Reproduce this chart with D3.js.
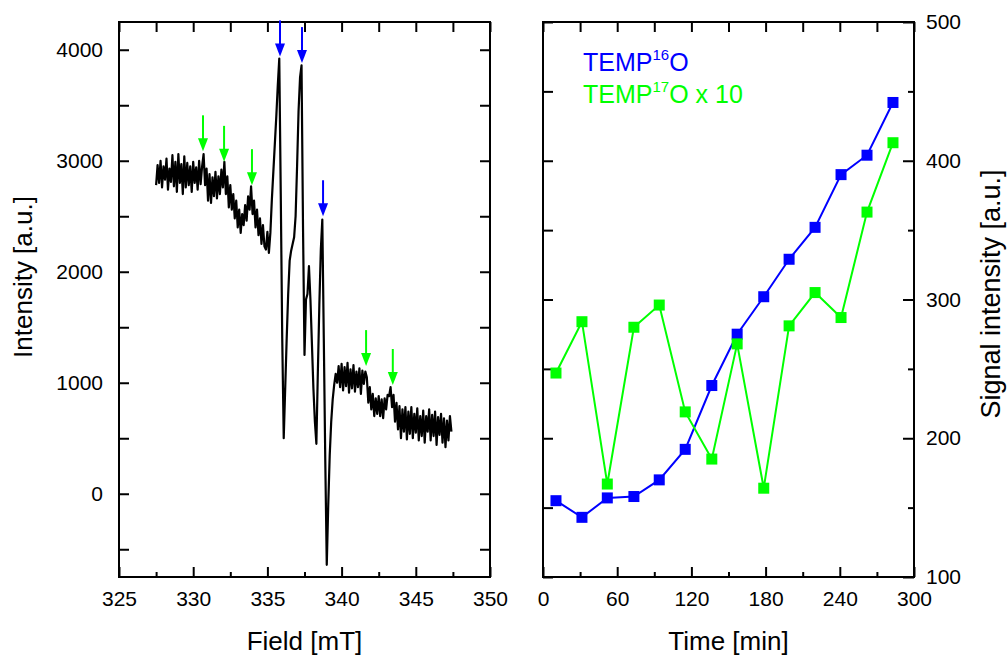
<!DOCTYPE html>
<html>
<head>
<meta charset="utf-8">
<script src="https://cdn.jsdelivr.net/npm/d3@7"></script>
<style>
  body { margin: 0; background: #fff; }
  svg { display: block; }
  text { font-family: Arial, "Liberation Sans", sans-serif; }
</style>
</head>
<body>
<div id="chart"></div>
<script>
// ---- data: EPR spectrum (left) ----
var fieldStart = 327.5;   // mT
var fieldStep = 0.1;      // mT
var intensity = [
  2780, 2960, 2800, 3000, 2760, 2950, 2830, 3020, 2740, 2930,
  2810, 3050, 2770, 2990, 2720, 3060, 2800, 2970, 2700, 3040,
  2760, 2980, 2780, 2950, 2720, 2990, 2800, 2940, 2740, 3000,
  2790, 2950, 3060, 2780, 2930, 2640, 2880, 2620, 2850, 2680,
  2900, 2660, 2860, 2700, 2920, 2760, 2990, 2700, 2860, 2580,
  2780, 2560, 2700, 2480, 2640, 2400, 2560, 2350, 2520, 2420,
  2600, 2460, 2680, 2560, 2770, 2520, 2640, 2400, 2560, 2330,
  2480, 2250, 2420, 2230, 2200, 2360, 2170, 2350, 2650, 2900,
  3150, 3400, 3680, 3920, 2700, 1400, 500, 950, 1400, 1800,
  2100, 2190, 2250, 2310, 2500, 2950, 3450, 3750, 3860, 2400,
  1250, 1750, 1800, 2050, 1750, 1350, 950, 650, 450, 1100,
  1700, 2200, 2470, 1400, 300, -640, -100, 350, 650, 850,
  980, 1080, 1000, 1150, 960, 1170, 930, 1140, 970, 1180,
  910, 1120, 950, 1160, 920, 1100, 960, 1130, 900, 1110,
  990, 1100, 1050, 820, 960, 760, 900, 700, 860, 720,
  880, 700, 850, 680, 860, 760, 890, 880, 960, 780,
  890, 650, 820, 580, 790, 500, 760, 560, 780, 490,
  740, 540, 780, 500, 720, 550, 770, 480, 700, 520,
  750, 460, 700, 560, 760, 480, 710, 520, 740, 440,
  690, 530, 720, 460, 680, 420, 660, 480, 700, 560
];

// arrows: field position and intensity at the arrow tip
var greenArrowField = [330.66, 332.08, 333.96, 341.65, 343.45];
var greenArrowTip = [3085, 2990, 2780, 1150, 980];
var blueArrowField = [335.85, 337.33, 338.75];
var blueArrowTip = [3940, 3880, 2500];

// ---- data: signal vs time (right) ----
var times = [10.5, 31.5, 52, 73.5, 94, 115, 136.5, 157, 178.5, 199, 220, 241, 262, 283];
var temp16O = [155, 143, 157, 158, 170, 192, 238, 275, 302, 329, 352, 390, 404, 442];
var temp17Ox10 = [247, 284, 167, 280, 296, 219, 185, 268, 164, 281, 305, 287, 363, 413];

var fieldMajor = [325, 330, 335, 340, 345, 350];
var fieldMinor = [327.5, 332.5, 337.5, 342.5, 347.5];
var intensityTicks = [-500, 0, 500, 1000, 1500, 2000, 2500, 3000, 3500, 4000];
var intensityLabels = [0, 1000, 2000, 3000, 4000];
var timeMajor = [0, 60, 120, 180, 240, 300];
var timeMinor = [30, 90, 150, 210, 270];
var signalMajor = [100, 200, 300, 400, 500];
var signalMinor = [150, 250, 350, 450];

var BLUE = "#0000ff", GREEN = "#00ff00";

var svg = d3.select("#chart").append("svg")
  .attr("width", 1008)
  .attr("height", 656);

var plotTop = 22, plotBottom = 577;

var xField = d3.scaleLinear().domain([325, 350]).range([119, 490]);
var yInt = d3.scaleLinear().domain([-750, 4250]).range([plotBottom, plotTop]);
var xTime = d3.scaleLinear().domain([0, 300]).range([543, 914]);
var ySig = d3.scaleLinear().domain([100, 500]).range([plotBottom, plotTop]);

// draw one axis; negative tick size = ticks pointing inward
function addAxis(axis, transform, withLabels) {
  var g = svg.append("g")
    .attr("transform", transform)
    .call(axis);
  g.select(".domain").remove();
  g.selectAll(".tick line").attr("stroke", "#000").attr("stroke-width", 2);
  g.selectAll(".tick text")
    .attr("fill", "#000")
    .style("font-size", "21px");
  if (!withLabels) g.selectAll(".tick text").remove();
  return g;
}

// Left panel axes
addAxis(d3.axisBottom(xField).tickValues(fieldMajor).tickSize(-10).tickPadding(14).tickFormat(d3.format("d")),
  `translate(0, ${plotBottom})`, true);
addAxis(d3.axisBottom(xField).tickValues(fieldMinor).tickSize(-5), `translate(0, ${plotBottom})`, false);
addAxis(d3.axisTop(xField).tickValues(fieldMajor.concat(fieldMinor)).tickSize(-10), `translate(0, ${plotTop})`, false);
addAxis(d3.axisLeft(yInt).tickValues(intensityTicks).tickSize(-10), `translate(119, 0)`, false);
addAxis(d3.axisLeft(yInt).tickValues(intensityLabels).tickSize(0).tickPadding(16).tickFormat(d3.format("d")),
  `translate(119, 0)`, true);
addAxis(d3.axisRight(yInt).tickValues(intensityTicks).tickSize(-10), `translate(490, 0)`, false);

// Right panel axes
addAxis(d3.axisBottom(xTime).tickValues(timeMajor).tickSize(-10).tickPadding(14).tickFormat(d3.format("d")),
  `translate(0, ${plotBottom})`, true);
addAxis(d3.axisBottom(xTime).tickValues(timeMinor).tickSize(-5), `translate(0, ${plotBottom})`, false);
addAxis(d3.axisTop(xTime).tickValues(timeMajor.concat(timeMinor)).tickSize(-10), `translate(0, ${plotTop})`, false);
addAxis(d3.axisLeft(ySig).tickValues(signalMajor.concat(signalMinor)).tickSize(-10), `translate(543, 0)`, false);
addAxis(d3.axisRight(ySig).tickValues(signalMajor).tickSize(-11).tickPadding(12).tickFormat(d3.format("d")),
  `translate(914, 0)`, true);
addAxis(d3.axisRight(ySig).tickValues(signalMinor).tickSize(-6), `translate(914, 0)`, false);

// Frames
[[xField, 119, 490], [xTime, 543, 914]].forEach(function(p) {
  svg.append("rect")
    .attr("x", p[1]).attr("y", plotTop)
    .attr("width", p[2] - p[1]).attr("height", plotBottom - plotTop)
    .attr("fill", "none").attr("stroke", "#000").attr("stroke-width", 2);
});

// Spectrum
var spectrum = intensity.map(function(v, i) {
  return { field: fieldStart + i * fieldStep, value: v };
});
svg.append("path")
  .datum(spectrum)
  .attr("fill", "none")
  .attr("stroke", "#000")
  .attr("stroke-width", 2.2)
  .attr("stroke-linejoin", "round")
  .attr("d", d3.line().x(d => xField(d.field)).y(d => yInt(d.value)));

// Arrows
function drawArrows(fields, tips, color) {
  fields.forEach(function(f, i) {
    var x = xField(f), y = yInt(tips[i]);
    svg.append("line")
      .attr("x1", x).attr("x2", x)
      .attr("y1", y - 36).attr("y2", y - 10)
      .attr("stroke", color).attr("stroke-width", 2);
    svg.append("path")
      .attr("d", `M${x - 5},${y - 13}L${x + 5},${y - 13}L${x},${y}Z`)
      .attr("fill", color);
  });
}
drawArrows(greenArrowField, greenArrowTip, GREEN);
drawArrows(blueArrowField, blueArrowTip, BLUE);

// Time series
function drawSeries(values, color) {
  var pts = times.map((t, i) => ({ t: t, v: values[i] }));
  svg.append("path")
    .datum(pts)
    .attr("fill", "none")
    .attr("stroke", color)
    .attr("stroke-width", 2)
    .attr("d", d3.line().x(d => xTime(d.t)).y(d => ySig(d.v)));
  svg.selectAll(null)
    .data(pts)
    .enter()
    .append("rect")
    .attr("x", d => xTime(d.t) - 5.5)
    .attr("y", d => ySig(d.v) - 5.5)
    .attr("width", 11)
    .attr("height", 11)
    .attr("fill", color);
}
drawSeries(temp16O, BLUE);
drawSeries(temp17Ox10, GREEN);

// Legend
var leg1 = svg.append("text").attr("x", 583).attr("y", 71).attr("fill", BLUE).style("font-size", "25px");
leg1.append("tspan").text("TEMP");
leg1.append("tspan").attr("dy", -11).style("font-size", "15px").text("16");
leg1.append("tspan").attr("dy", 11).text("O");

var leg2 = svg.append("text").attr("x", 583).attr("y", 103).attr("fill", GREEN).style("font-size", "25px");
leg2.append("tspan").text("TEMP");
leg2.append("tspan").attr("dy", -11).style("font-size", "15px").text("17");
leg2.append("tspan").attr("dy", 11).text("O x 10");

// Axis titles
svg.append("text")
  .attr("x", 304.5).attr("y", 650)
  .attr("text-anchor", "middle")
  .style("font-size", "26px")
  .text("Field [mT]");

svg.append("text")
  .attr("x", 728.5).attr("y", 650)
  .attr("text-anchor", "middle")
  .style("font-size", "26px")
  .text("Time [min]");

svg.append("text")
  .attr("transform", "translate(32, 277) rotate(-90)")
  .attr("text-anchor", "middle")
  .style("font-size", "26px")
  .text("Intensity [a.u.]");

svg.append("text")
  .attr("transform", "translate(1000, 294) rotate(-90)")
  .attr("text-anchor", "middle")
  .style("font-size", "27px")
  .text("Signal intensity [a.u.]");
</script>
</body>
</html>
